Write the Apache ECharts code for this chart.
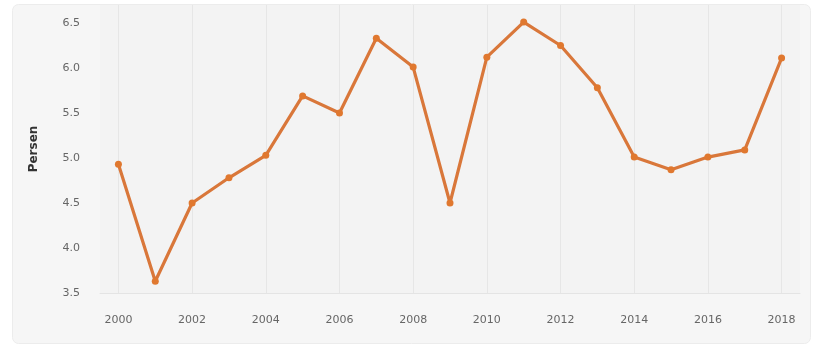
<!DOCTYPE html>
<html>
<head>
<meta charset="utf-8">
<script src="https://cdn.jsdelivr.net/npm/echarts@6/dist/echarts.min.js"></script>
<style>html,body{margin:0;padding:0;background:#fff}#c{width:829px;height:348px}</style>
</head>
<body>
<div id="c"></div>
<script>
const years = [2000,2001,2002,2003,2004,2005,2006,2007,2008,2009,2010,2011,2012,2013,2014,2015,2016,2017,2018];
const values = [4.93,3.63,4.50,4.78,5.03,5.69,5.50,6.33,6.01,4.50,6.12,6.51,6.25,5.78,5.01,4.87,5.01,5.09,6.11];
const xTickYears = [2000,2002,2004,2006,2008,2010,2012,2014,2016,2018];
const yName = 'Persen';

const chart = echarts.init(document.getElementById('c'), null, {renderer:'canvas'});
chart.setOption({
  animation: false,
  graphic: [{
    type: 'rect', left: 12, top: 4, z: -10,
    shape: {width: 798, height: 339, r: 6},
    style: {fill: '#f6f6f6', stroke: '#ececec', lineWidth: 1}
  }],
  grid: {left: 100, right: 29, top: 5, bottom: 55, show: true, backgroundColor: '#f3f3f3', borderWidth: 0},
  xAxis: {
    type: 'value', min: 1999.5, max: 2018.5,
    axisLine: {show: true, lineStyle: {color: '#e4e4e4'}},
    axisTick: {show: false, customValues: xTickYears},
    axisLabel: {customValues: xTickYears, color: '#666', fontSize: 11, margin: 22, fontFamily: 'DejaVu Sans', formatter: v => String(v)},
    splitLine: {show: true, lineStyle: {color: '#e6e6e6', width: 1}}
  },
  yAxis: {
    type: 'value', min: 3.5, max: 6.7, interval: 0.5,
    name: yName, nameLocation: 'middle', nameGap: 60, nameRotate: 90,
    nameTextStyle: {color: '#333', fontSize: 12, fontWeight: 'bold', fontFamily: 'DejaVu Sans'},
    axisLine: {show: false}, axisTick: {show: false},
    axisLabel: {color: '#666', fontSize: 11, margin: 20, fontFamily: 'DejaVu Sans', showMaxLabel: false, formatter: v => v.toFixed(1)},
    splitLine: {show: false}
  },
  series: [{
    type: 'line',
    data: years.map((y, i) => [y, values[i]]),
    symbol: 'circle', symbolSize: 7,
    lineStyle: {color: '#d9773a', width: 3.2},
    itemStyle: {color: '#e0782f'}
  }]
});
</script>
</body>
</html>
